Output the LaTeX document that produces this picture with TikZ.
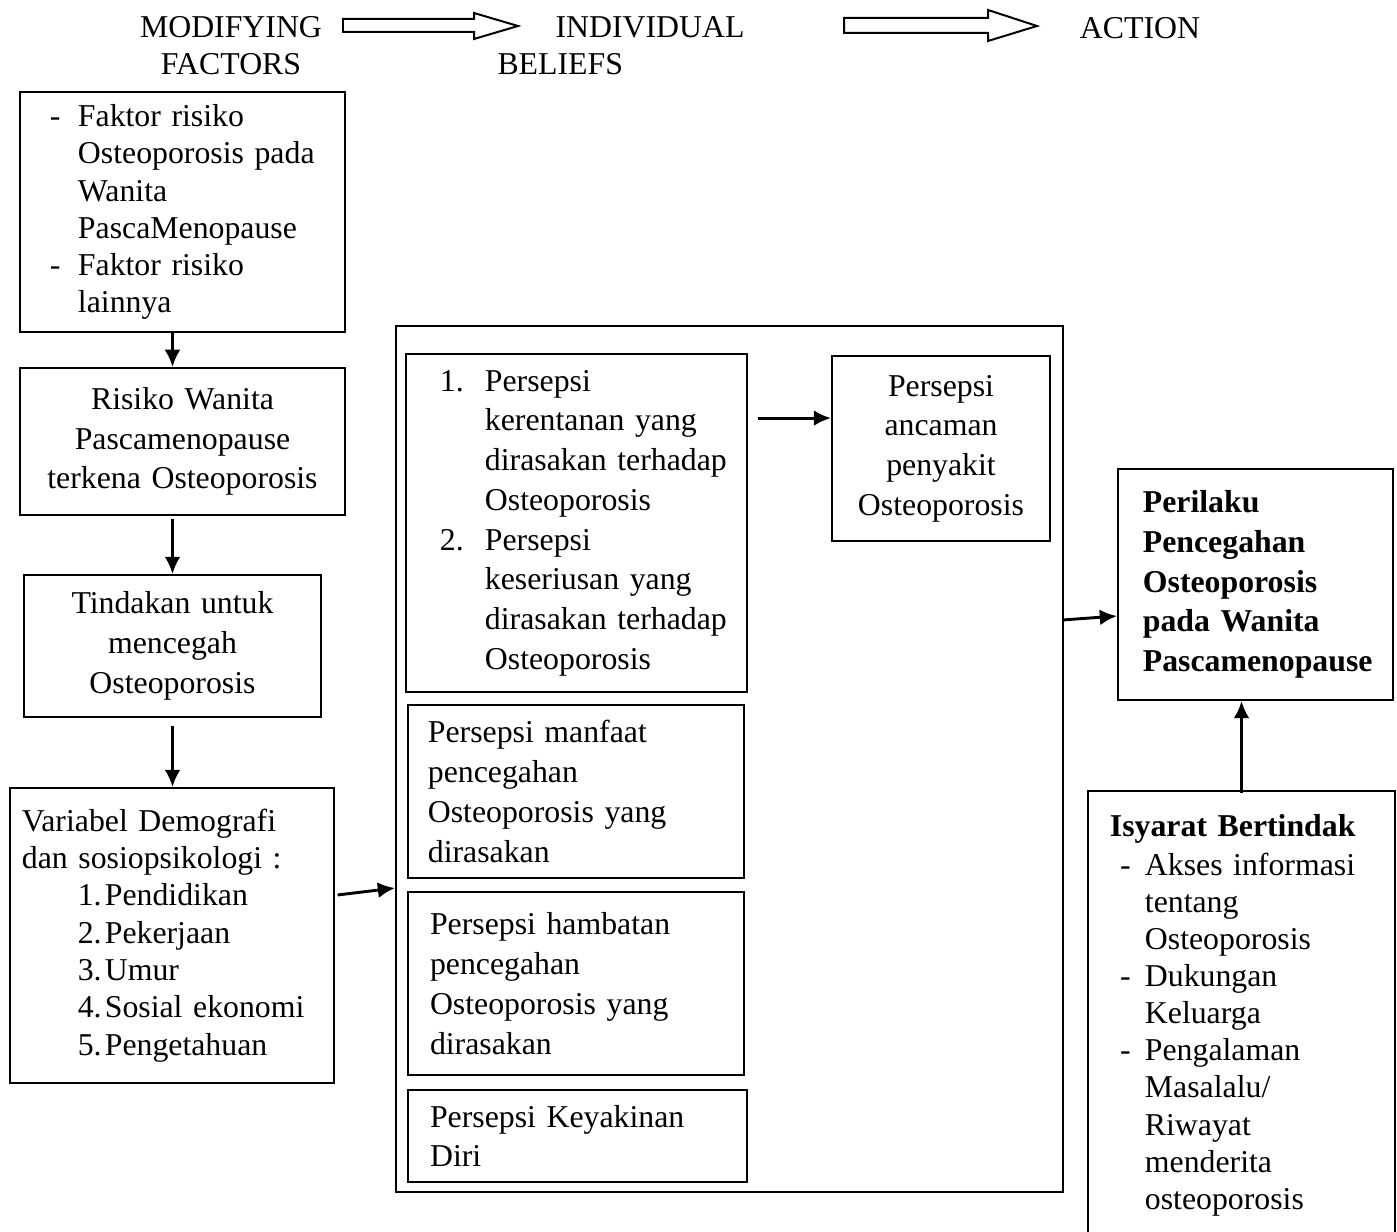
\documentclass[tikz,border=0pt]{standalone}
\usepackage{fontspec}
\setmainfont{Liberation Serif}
\usepackage{tikz}
\usetikzlibrary{arrows.meta}
\tikzstyle{framebox} = [draw=black, line width=0.75pt, rectangle, inner ysep=0pt,
    font=\fontsize{12pt}{15pt}\selectfont]
\tikzstyle{conn} = [line width=1.1pt, -{Latex[length=6.5pt,width=6pt]}]
\tikzstyle{hollow} = [draw=black, line width=0.75pt, line join=miter]
\tikzstyle{heading} = [inner sep=0pt, font=\fontsize{12pt}{14pt}\selectfont]
\newcommand{\hang}[2]{\makebox[#1][l]{#2}}

\begin{document}
\begin{tikzpicture}[x=0.3774pt, y=-0.3774pt]
\useasboundingbox (0,0) rectangle (1397,1232);

% headings
\node[heading, align=center] (hdrMod) at (231,46) {MODIFYING\\FACTORS};
\node[heading, align=left, anchor=west] (hdrBel) at (497,46) {\hspace*{21.9pt}INDIVIDUAL\\BELIEFS};
\node[heading] (hdrAct) at (1140,28) {ACTION};
\draw[hollow] (343,19) -- (474,19) -- (474,13) -- (518,26) -- (474,39) -- (474,32) -- (343,32) -- cycle;
\draw[hollow] (844,18) -- (988,18) -- (988,10) -- (1037,26) -- (988,41) -- (988,33) -- (844,33) -- cycle;

% modifying factors
\node[framebox, align=left, text width=100.1pt, inner xsep=11.3pt, minimum height=90.6pt,
    font=\fontsize{12pt}{14pt}\selectfont] (fRisk) at (182.5,212) {%
    \hang{10.6pt}{-}Faktor risiko\\
    \hang{10.6pt}{}\mbox{Osteoporosis pada}\\
    \hang{10.6pt}{}Wanita\\
    \hang{10.6pt}{}PascaMenopause\\
    \hang{10.6pt}{-}Faktor risiko\\
    \hang{10.6pt}{}lainnya};
\node[framebox, align=center, text width=116.7pt, inner xsep=3pt, minimum height=55.5pt] (risiko) at (182.5,441.5)
    {Risiko Wanita\\Pascamenopause\\terkena Osteoporosis};
\node[framebox, align=center, text width=106.1pt, inner xsep=3pt, minimum height=53.6pt] (tindakan) at (172.5,646)
    {Tindakan untuk\\mencegah\\Osteoporosis};
\node[framebox, align=left, text width=113.3pt, inner xsep=4.5pt, minimum height=111.3pt,
    font=\fontsize{12pt}{14.1pt}\selectfont] (demografi) at (172,935.5) {%
    Variabel Demografi\\
    dan sosiopsikologi :\\
    \hspace*{21.1pt}\hang{10.2pt}{1.}Pendidikan\\
    \hspace*{21.1pt}\hang{10.2pt}{2.}Pekerjaan\\
    \hspace*{21.1pt}\hang{10.2pt}{3.}Umur\\
    \hspace*{21.1pt}\hang{10.2pt}{4.}Sosial ekonomi\\
    \hspace*{21.1pt}\hang{10.2pt}{5.}Pengetahuan};

% individual beliefs
\node[framebox, minimum width=251.7pt, minimum height=326.8pt] (beliefs) at (729.5,759) {};
\node[framebox, align=left, text width=103.1pt, inner xsep=12.8pt, minimum height=127.6pt] (kerentanan) at (576.5,523) {%
    \hang{17pt}{1.}Persepsi\\
    \hang{17pt}{}\mbox{kerentanan yang}\\
    \hang{17pt}{}\mbox{dirasakan terhadap}\\
    \hang{17pt}{}Osteoporosis\\
    \hang{17pt}{2.}Persepsi\\
    \hang{17pt}{}\mbox{keseriusan yang}\\
    \hang{17pt}{}\mbox{dirasakan terhadap}\\
    \hang{17pt}{}Osteoporosis};
\node[framebox, align=center, text width=78.3pt, inner xsep=2pt, minimum height=69.8pt] (ancaman) at (941,448.5)
    {Persepsi\\ancaman\\penyakit\\Osteoporosis};
\node[framebox, align=left, text width=111.8pt, inner xsep=7.5pt, minimum height=65.3pt] (manfaat) at (576,791.5)
    {Persepsi manfaat\\pencegahan\\Osteoporosis yang\\dirasakan};
\node[framebox, align=left, text width=110.2pt, inner xsep=8.3pt, minimum height=69.1pt] (hambatan) at (576,983.5)
    {Persepsi hambatan\\pencegahan\\Osteoporosis yang\\dirasakan};
\node[framebox, align=left, text width=111.3pt, inner xsep=8.3pt, minimum height=34.7pt] (keyakinan) at (577.5,1136)
    {Persepsi Keyakinan\\Diri};

% action
\node[framebox, align=left, text width=85pt, inner xsep=9.4pt, minimum height=87.2pt,
    font=\fontsize{12pt}{15pt}\selectfont\bfseries] (perilaku) at (1255.5,584.5)
    {Perilaku\\Pencegahan\\Osteoporosis\\pada Wanita\\\mbox{Pascamenopause}};
\node[framebox, anchor=north, align=left, text width=91.7pt, inner xsep=12.1pt, inner ysep=8.7pt,
    font=\fontsize{12pt}{14pt}\selectfont] (isyarat) at (1241.5,790) {%
    \hspace*{-3.8pt}\textbf{Isyarat Bertindak}\\[0.8pt]
    \hang{9.4pt}{-}\mbox{Akses informasi}\\
    \hang{9.4pt}{}tentang\\
    \hang{9.4pt}{}Osteoporosis\\
    \hang{9.4pt}{-}Dukungan\\
    \hang{9.4pt}{}Keluarga\\
    \hang{9.4pt}{-}Pengalaman\\
    \hang{9.4pt}{}Masalalu/\\
    \hang{9.4pt}{}Riwayat\\
    \hang{9.4pt}{}menderita\\
    \hang{9.4pt}{}osteoporosis};

% connectors
\draw[conn] (fRisk.south -| tindakan.north) -- (risiko.north -| tindakan.north);
\draw[conn] ([yshift=-1pt]risiko.south -| tindakan.north) -- (tindakan.north);
\draw[conn] ([yshift=-3pt]tindakan.south) -- (tindakan.south |- demografi.north);
\draw[conn] ([shift={(1pt,15.3pt)}]demografi.east) -- ([yshift=-48.7pt]beliefs.west);
\draw[conn] ([shift={(3.8pt,39.6pt)}]kerentanan.east) coordinate (k1) -- (k1 -| ancaman.west);
\draw[conn] ([yshift=52.5pt]beliefs.east) -- ([yshift=-11.9pt]perilaku.west);
\draw[conn] ([yshift=-1pt]isyarat.north) -- (isyarat.north |- perilaku.south);
\end{tikzpicture}
\end{document}
